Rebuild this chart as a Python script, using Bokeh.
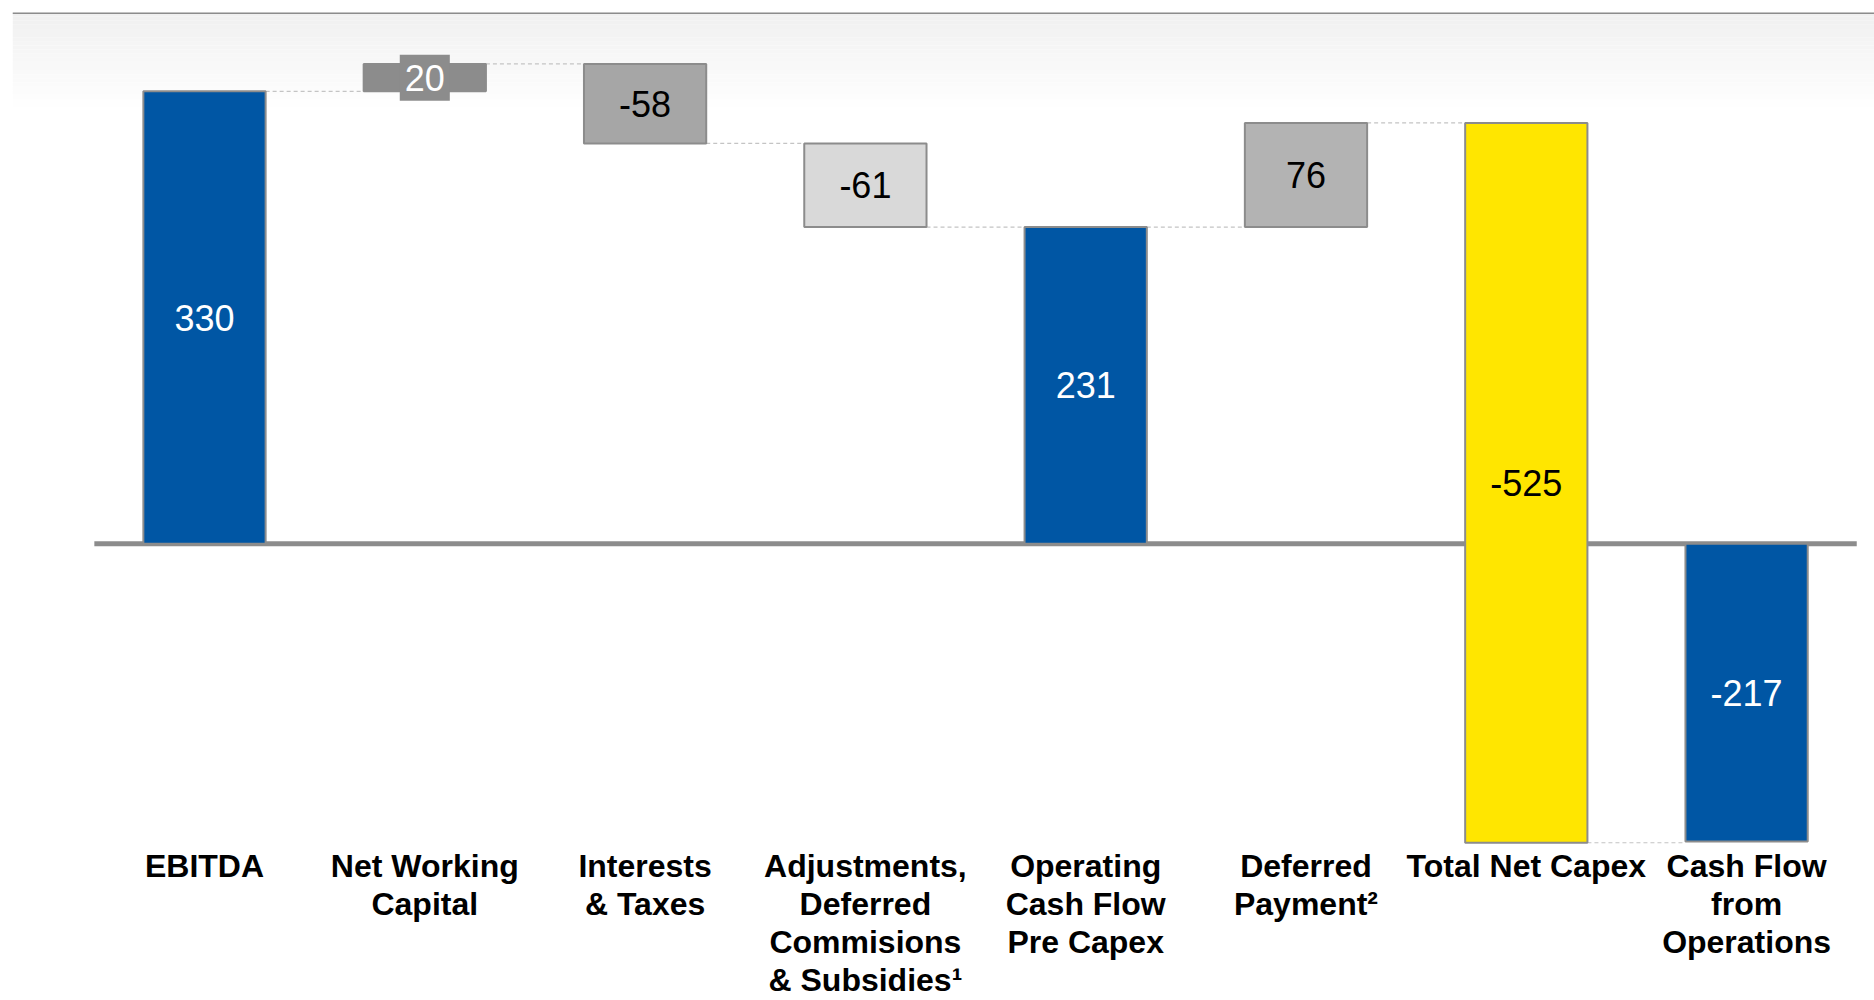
from bokeh.plotting import figure
from bokeh.models import Range1d, FixedTicker, Span, BoxAnnotation, ColumnDataSource
from bokeh.core.properties import value
from bokeh.embed import file_html
from bokeh.resources import INLINE

# ---- data ----
categories = [
    "EBITDA",
    "Net Working\nCapital",
    "Interests\n& Taxes",
    "Adjustments,\nDeferred\nCommisions\n& Subsidies\u00b9",
    "Operating\nCash Flow\nPre Capex",
    "Deferred\nPayment\u00b2",
    "Total Net Capex",
    "Cash Flow\nfrom\nOperations",
]
values = [330, 20, -58, -61, 231, 76, -525, -217]
kinds = ["total", "delta", "delta", "delta", "total", "delta", "delta", "total"]

# ---- styles ----
bar_colors = ["#0056A4", "#8C8C8C", "#A6A6A6", "#D9D9D9", "#0056A4", "#B3B3B3", "#FFE600", "#0056A4"]
label_colors = ["white", "white", "black", "black", "white", "black", "black", "white"]
FONT = "Liberation Sans"
W = 0.555

# ---- waterfall geometry from data ----
bottoms, tops, ends = [], [], []
running = 0
for v, k in zip(values, kinds):
    if k == "total":
        b, t = 0, v
        running = v
    else:
        b, t = running, running + v
        running += v
    bottoms.append(b)
    tops.append(t)
    ends.append(running)

xs = list(range(len(categories)))
mids = [(b + t) / 2 for b, t in zip(bottoms, tops)]
labels = [str(v) for v in values]

Y_END, Y_START = 387.5, -220.0
FRAME_TOP, FRAME_BOTTOM = 12, 846
p = figure(width=1874, height=1000, output_backend="svg", toolbar_location=None,
           x_range=Range1d(-0.8715, 7.5806), y_range=Range1d(Y_START, Y_END),
           min_border_left=12, min_border_right=0, min_border_top=FRAME_TOP,
           min_border_bottom=1000 - FRAME_BOTTOM,
           y_axis_location=None, title=None)
p.background_fill_color = "white"
p.border_fill_color = "white"
p.outline_line_color = None
p.xgrid.grid_line_color = None
p.ygrid.grid_line_color = None

# gradient band at top (decoration)
N = 24
band = 72.0 / N
for k in range(N):
    lvl = int(round(240 + (255 - 240) * k / (N - 1)))
    c = "#%02x%02x%02x" % (lvl, lvl, lvl)
    p.add_layout(BoxAnnotation(top=Y_END - k * band, bottom=Y_END - (k + 1) * band,
                               fill_color=c, fill_alpha=1, line_color=None, level="underlay"))

p.add_layout(Span(location=Y_END, dimension="width", line_color="#8c8c8c", line_width=3))

# zero baseline
p.segment(x0=[xs[0] - 0.5], x1=[xs[-1] + 0.5], y0=[0], y1=[0], line_color="#8c8c8c", line_width=5)

# connectors
cx0 = [x + W / 2 for x in xs[:-1]]
cx1 = [x + 1 - W / 2 for x in xs[:-1]]
p.segment(x0=cx0, x1=cx1, y0=ends[:-1], y1=ends[:-1], line_color="#c4c4c4",
          line_width=1.2, line_dash="4 3")

src = ColumnDataSource(dict(x=xs, bottom=bottoms, top=tops, color=bar_colors,
                            mid=mids, lab=labels, lc=label_colors))
p.vbar(x="x", width=W, bottom="bottom", top="top", fill_color="color",
       line_color="#8c8c8c", line_width=2, source=src)

# value labels (small bars get a bar-coloured box behind the label)
px_per_unit = (FRAME_BOTTOM - FRAME_TOP) / (Y_END - Y_START)
big = [i for i in xs if abs(tops[i] - bottoms[i]) * px_per_unit > 40]
small = [i for i in xs if i not in big]
p.text(x=[xs[i] for i in big], y=[mids[i] for i in big], text=[labels[i] for i in big],
       text_color=[label_colors[i] for i in big], text_align="center", text_baseline="middle",
       text_font=value(FONT), text_font_size="36px")
for i in small:
    p.text(x=[xs[i]], y=[mids[i]], text=[labels[i]], text_color=label_colors[i],
           text_align="center", text_baseline="middle", text_font=value(FONT),
           text_font_size="36px", background_fill_color=bar_colors[i], padding=(5, 10))

ax = p.xaxis[0]
ax.ticker = FixedTicker(ticks=xs)
ax.major_label_overrides = {x: c for x, c in zip(xs, categories)}
ax.major_label_text_font = FONT
ax.major_label_text_font_style = "bold"
ax.major_label_text_font_size = "32px"
ax.major_label_text_color = "black"
ax.major_label_text_line_height = 1.06
ax.major_label_standoff = 2
ax.axis_line_color = None
ax.major_tick_line_color = None
ax.minor_tick_line_color = None
ax.major_tick_out = 0
ax.major_tick_in = 0

open("out.html", "w").write(file_html(p, INLINE))
